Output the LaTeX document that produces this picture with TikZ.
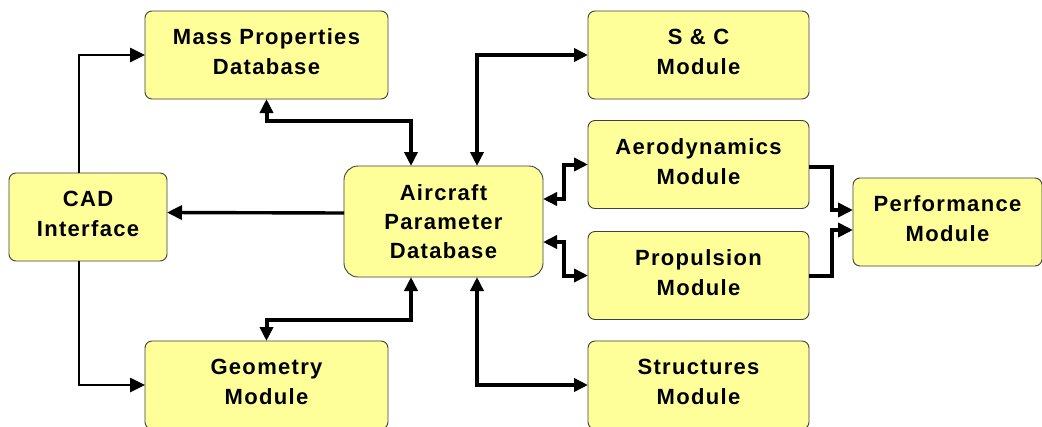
\documentclass[tikz,border=0pt]{standalone}
\usepackage{fontspec}
\setmainfont{Liberation Sans}[LetterSpace=6]
\usetikzlibrary{arrows.meta,calc}
\definecolor{boxfill}{HTML}{FFFF99}
\tikzset{
  box/.style={draw=black!75, line width=0.9pt, fill=boxfill, rounded corners=7pt,
    inner sep=0pt, outer sep=0pt, align=center,
    font=\bfseries\fontsize{22}{30}\selectfont},
  bigbox/.style={box, rounded corners=14pt},
  thinarr/.style={line width=2.6pt, -{Triangle[length=15pt,width=14pt]}},
  onearr/.style={line width=3.4pt, -{Triangle[length=15pt,width=14pt]}},
  twoarr/.style={line width=4pt, {Triangle[length=14pt,width=13pt]}-{Triangle[length=14pt,width=13pt]}}
}
\begin{document}
\begin{tikzpicture}[x=1pt,y=-1pt]
\clip (0,0) rectangle (1042,426);
\fill[white] (0,0) rectangle (1042,426);
% nodes
\node[box, minimum width=243pt, minimum height=88pt, text depth=6pt] (mp) at (266.5,55) {Mass Properties\\Database};
\node[box, minimum width=158pt, minimum height=88pt, text depth=6pt] (cad) at (88,217) {CAD\\Interface};
\node[bigbox, minimum width=199pt, minimum height=111pt, font=\bfseries\fontsize{22}{29}\selectfont] (ac) at (443.5,221.5) {Aircraft\\Parameter\\Database};
\node[box, minimum width=243pt, minimum height=88pt, text depth=6pt] (geo) at (266.5,385) {Geometry\\Module};
\node[box, minimum width=221pt, minimum height=88pt, text depth=6pt] (sc) at (698.5,55) {S \& C\\Module};
\node[box, minimum width=221pt, minimum height=88pt, text depth=6pt] (aero) at (698.5,164.5) {Aerodynamics\\Module};
\node[box, minimum width=221pt, minimum height=88pt, text depth=6pt] (prop) at (698.5,275.5) {Propulsion\\Module};
\node[box, minimum width=221pt, minimum height=88pt, text depth=6pt] (st) at (698.5,385) {Structures\\Module};
\node[box, minimum width=189pt, minimum height=88pt, text depth=6pt] (perf) at (947.5,222) {Performance\\Module};
% connectors
\draw[thinarr] ([xshift=-9pt]cad.north) |- (mp.west);
\draw[thinarr] ([xshift=-9pt]cad.south) |- (geo.west);
\draw[onearr] ([yshift=8.5pt]ac.west) -- ([yshift=4.5pt]cad.east);
\draw[twoarr] (mp.south) -- ++(0,22) -| ([xshift=-32.5pt]ac.north);
\draw[twoarr] ([xshift=33.5pt]ac.north) |- (sc.west);
\draw[twoarr] ([xshift=-32.5pt]ac.south) -- ++(0,43) -| (geo.north);
\draw[twoarr] ([xshift=33.5pt]ac.south) |- (st.west);
\draw[twoarr] ([yshift=22.5pt]ac.east) -- ++(21,0) |- (aero.west);
\draw[twoarr] ([yshift=-20.5pt]ac.east) -- ++(21,0) |- (prop.west);
\draw[onearr, line width=4pt] ([yshift=-2.5pt]aero.east) -- ++(23,0) |- ([yshift=12pt]perf.west);
\draw[onearr, line width=4pt] (prop.east) -- ++(23,0) |- ([yshift=-8pt]perf.west);
\end{tikzpicture}
\end{document}
